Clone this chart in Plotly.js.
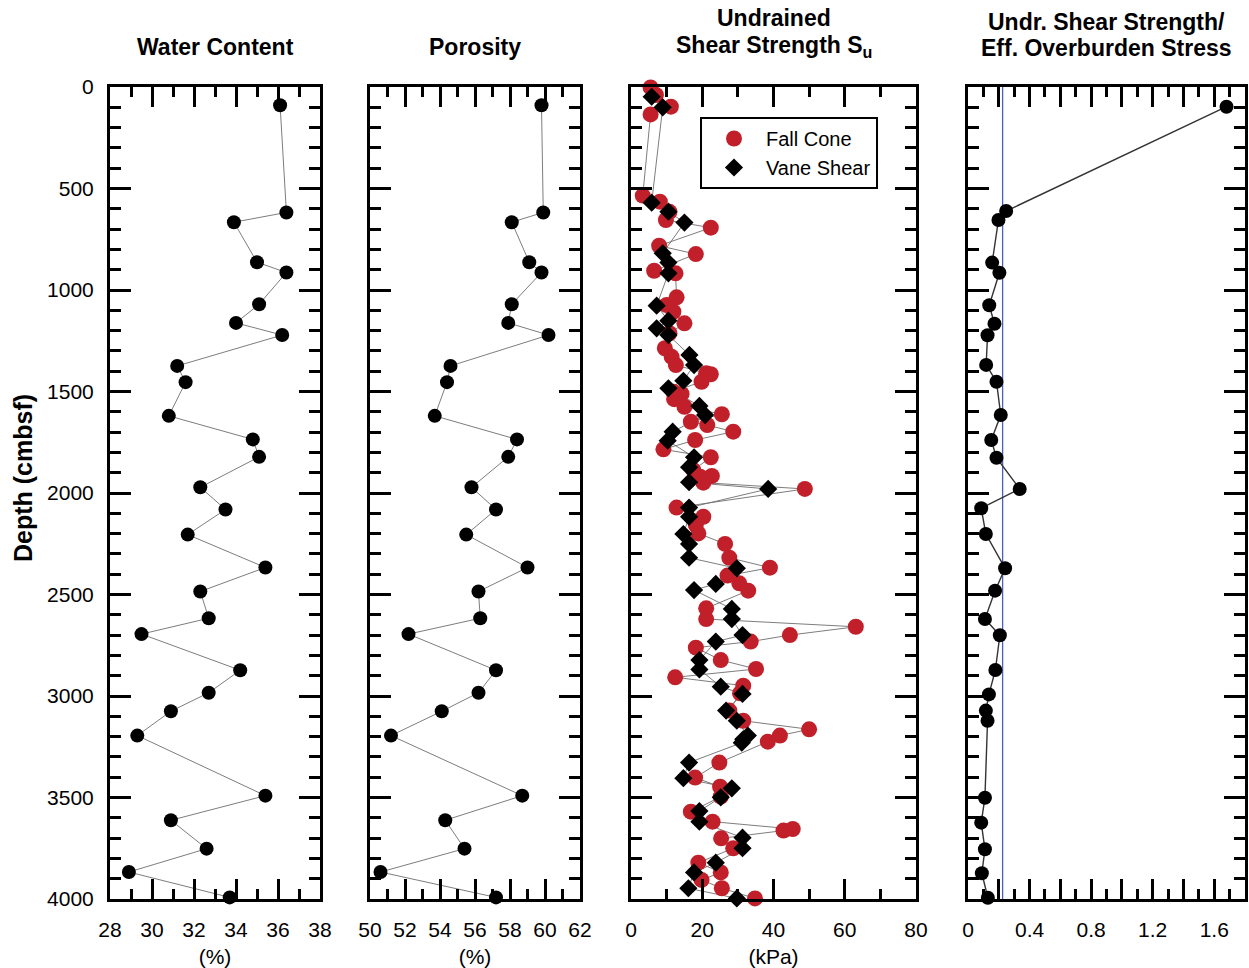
<!DOCTYPE html>
<html>
<head>
<meta charset="utf-8">
<script src="https://cdn.plot.ly/plotly-3.0.1.min.js"></script>
<style>html,body{margin:0;padding:0;background:#fff;}</style>
</head>
<body>
<div id="chart" style="width:1249px;height:968px;"></div>
<script>
// ---- Data ----
const propDepth = [90, 618, 666, 863, 914, 1070, 1162, 1222, 1374, 1454, 1620, 1736, 1822, 1972, 2081, 2205, 2367, 2485, 2617, 2695, 2873, 2984, 3075, 3195, 3491, 3612, 3752, 3867, 3992];
const waterContent = [36.1, 36.4, 33.9, 35.0, 36.4, 35.1, 34.0, 36.2, 31.2, 31.6, 30.8, 34.8, 35.1, 32.3, 33.5, 31.7, 35.4, 32.3, 32.7, 29.5, 34.2, 32.7, 30.9, 29.3, 35.4, 30.9, 32.6, 28.9, 33.7];
const porosity = [59.8, 59.9, 58.1, 59.1, 59.8, 58.1, 57.9, 60.2, 54.6, 54.4, 53.7, 58.4, 57.9, 55.8, 57.2, 55.5, 59.0, 56.2, 56.3, 52.2, 57.2, 56.2, 54.1, 51.2, 58.7, 54.3, 55.4, 50.6, 57.2];

const fcDepth = [2, 39, 97, 135, 535, 565, 615, 655, 693, 782, 823, 905, 918, 1036, 1074, 1107, 1164, 1213, 1287, 1329, 1370, 1410, 1415, 1452, 1501, 1512, 1538, 1575, 1612, 1649, 1665, 1698, 1739, 1785, 1824, 1887, 1916, 1920, 1949, 1980, 2072, 2117, 2158, 2199, 2251, 2319, 2368, 2407, 2445, 2481, 2568, 2621, 2659, 2700, 2732, 2762, 2823, 2867, 2908, 2949, 2987, 3072, 3122, 3164, 3195, 3225, 3328, 3402, 3447, 3496, 3570, 3619, 3655, 3663, 3701, 3750, 3821, 3869, 3906, 3947, 3997];
const fallCone = [5.5, 7.0, 11.2, 5.5, 3.3, 8.1, 10.8, 9.8, 22.4, 7.9, 18.2, 6.5, 12.5, 12.8, 10.0, 11.9, 15.0, 10.8, 9.5, 11.4, 12.6, 21.1, 22.4, 19.8, 11.9, 14.2, 12.1, 15.0, 25.5, 16.8, 21.4, 28.7, 18.0, 9.1, 22.4, 17.5, 22.7, 19.4, 20.3, 48.8, 12.8, 20.3, 18.2, 18.9, 26.4, 27.6, 39.0, 27.1, 30.4, 32.9, 21.1, 21.1, 63.1, 44.6, 33.6, 18.2, 25.2, 35.1, 12.4, 31.5, 30.6, 27.6, 31.5, 50.0, 41.8, 38.4, 24.8, 18.0, 25.0, 25.2, 16.8, 22.9, 45.4, 42.8, 25.3, 28.7, 18.9, 25.2, 19.8, 25.5, 34.8];

const vsDepth = [48, 100, 570, 614, 668, 819, 865, 918, 1077, 1151, 1189, 1222, 1320, 1370, 1447, 1484, 1571, 1616, 1698, 1742, 1824, 1873, 1947, 1980, 2072, 2117, 2202, 2251, 2319, 2371, 2448, 2478, 2571, 2621, 2700, 2732, 2823, 2869, 2954, 2990, 3072, 3122, 3195, 3213, 3230, 3328, 3405, 3455, 3499, 3567, 3619, 3698, 3750, 3821, 3869, 3947, 3997];
const vaneShear = [5.8, 8.9, 5.8, 10.5, 15.0, 8.9, 10.5, 10.5, 7.2, 10.5, 7.2, 10.5, 16.4, 17.7, 14.7, 10.5, 19.2, 20.8, 11.7, 10.3, 17.7, 16.3, 16.3, 38.5, 16.3, 16.3, 14.7, 16.3, 16.3, 29.7, 23.8, 17.7, 28.3, 28.3, 31.3, 23.8, 19.2, 19.2, 25.2, 31.3, 26.7, 29.7, 32.8, 31.5, 31.1, 16.3, 14.7, 28.3, 25.2, 19.2, 19.2, 31.3, 31.3, 23.8, 17.7, 16.1, 29.7];

const ratioDepth = [97, 611, 655, 865, 915, 1075, 1166, 1223, 1369, 1452, 1616, 1739, 1826, 1980, 2075, 2202, 2371, 2481, 2621, 2701, 2872, 2992, 3072, 3122, 3501, 3624, 3755, 3873, 3994];
const ratio = [1.68, 0.248, 0.198, 0.157, 0.204, 0.138, 0.172, 0.127, 0.118, 0.185, 0.213, 0.151, 0.185, 0.336, 0.086, 0.116, 0.241, 0.176, 0.11, 0.207, 0.178, 0.136, 0.116, 0.127, 0.11, 0.086, 0.11, 0.09, 0.129];
const ratioRef = 0.225;

const ratioMajorTicks = [0, 0.2, 0.4, 0.6, 0.8, 1.0, 1.2, 1.4, 1.6, 1.8];
const ratioLabelVals = [0, 0.4, 0.8, 1.2, 1.6];
const ratioLabelText = ['0', '0.4', '0.8', '1.2', '1.6'];

// panel titles: [panel index, text, line-center pixel y]
const titleLines = [
  [0, 'Water Content', 47],
  [1, 'Porosity', 47],
  [2, 'Undrained', 18],
  [2, 'Shear Strength S<sub>u</sub>', 46],
  [3, 'Undr. Shear Strength/', 22],
  [3, 'Eff. Overburden Stress', 48]
];

// ---- Style ----
const FONT = 'Arial, "Liberation Sans", sans-serif';
const RED = '#c1202a';
const thinLine = {color: '#6e6e6e', width: 0.9};

const traces = [
  {x: waterContent, y: propDepth, xaxis: 'x', yaxis: 'y', mode: 'lines+markers', showlegend: false, cliponaxis: false,
   line: thinLine, marker: {color: 'black', size: 14}},
  {x: porosity, y: propDepth, xaxis: 'x2', yaxis: 'y2', mode: 'lines+markers', showlegend: false, cliponaxis: false,
   line: thinLine, marker: {color: 'black', size: 14}},
  {x: fallCone, y: fcDepth, xaxis: 'x3', yaxis: 'y3', mode: 'lines', showlegend: false, line: thinLine},
  {x: vaneShear, y: vsDepth, xaxis: 'x3', yaxis: 'y3', mode: 'lines', showlegend: false, line: thinLine},
  {x: fallCone, y: fcDepth, xaxis: 'x3', yaxis: 'y3', mode: 'markers', name: 'Fall Cone', cliponaxis: false,
   marker: {color: RED, size: 16}},
  {x: vaneShear, y: vsDepth, xaxis: 'x3', yaxis: 'y3', mode: 'markers', name: 'Vane Shear', cliponaxis: false,
   marker: {color: 'black', size: 14, symbol: 'diamond'}},
  {x: [ratioRef, ratioRef], y: [0, 4000], xaxis: 'x4', yaxis: 'y4', mode: 'lines', showlegend: false,
   line: {color: '#4a5fc1', width: 1.3}, hoverinfo: 'skip'},
  {x: ratio, y: ratioDepth, xaxis: 'x4', yaxis: 'y4', mode: 'lines+markers', showlegend: false, cliponaxis: false,
   line: {color: '#333', width: 1.4}, marker: {color: 'black', size: 14}},
  {x: [0.5], y: [2000], xaxis: 'x5', yaxis: 'y4', mode: 'markers', showlegend: false,
   marker: {opacity: 0}, hoverinfo: 'skip'}
];

const tickFont = {family: FONT, size: 21, color: 'black'};

function xAxis(domain, range, dtick, minorDtick, title, extra) {
  const ax = Object.assign({
    domain: domain, range: range, autorange: false, dtick: dtick, tick0: 0,
    showline: true, linecolor: 'black', linewidth: 3, mirror: 'ticks',
    ticks: 'inside', ticklen: 20, tickwidth: 3, tickcolor: 'black',
    minor: {dtick: minorDtick, ticks: 'inside', ticklen: 10, tickwidth: 3, tickcolor: 'black', showgrid: false},
    showgrid: false, zeroline: false,
    tickfont: tickFont,
    ticklabelstandoff: 10
  }, extra || {});
  if (title) ax.title = {text: title, font: {family: FONT, size: 21, color: 'black'}, standoff: 11};
  return ax;
}
function yAxis(anchor, showLabels) {
  return {
    anchor: anchor, range: [4000, 0], autorange: false, dtick: 500, tick0: 0,
    showline: true, linecolor: 'black', linewidth: 3, mirror: 'ticks',
    ticks: 'inside', ticklen: 21, tickwidth: 3, tickcolor: 'black',
    minor: {dtick: 100, ticks: 'inside', ticklen: 11, tickwidth: 3, tickcolor: 'black', showgrid: false},
    showgrid: false, zeroline: false, showticklabels: showLabels,
    tickfont: tickFont,
    ticklabelstandoff: 9
  };
}

const W = 1135, PT = 87, PH = 812;
const dom = [[0, 210 / W], [260 / W, 470 / W], [521 / W, 806 / W], [858 / W, 1]];
const pyToPaper = py => 1 - (py - PT) / PH;
const pxToPaper = px => (px - 110) / W;

const annotations = titleLines.map(([i, t, py]) => ({
  text: '<b>' + t + '</b>', xref: 'paper', yref: 'paper',
  x: (dom[i][0] + dom[i][1]) / 2, y: pyToPaper(py), xanchor: 'center', yanchor: 'middle',
  showarrow: false, font: {family: FONT, size: 23, color: 'black'}
}));
annotations.push({
  text: '<b>Depth (cmbsf)</b>', xref: 'paper', yref: 'paper', textangle: -90,
  x: pxToPaper(23), y: pyToPaper(478), xanchor: 'center', yanchor: 'middle',
  showarrow: false, font: {family: FONT, size: 25, color: 'black'}
});

const layout = {
  width: 1249, height: 968,
  margin: {l: 110, r: 4, t: 87, b: 69},
  paper_bgcolor: 'white', plot_bgcolor: 'white',
  font: {family: FONT, color: 'black'},
  xaxis: xAxis(dom[0], [28, 38], 2, 1, '(%)', {anchor: 'y'}),
  xaxis2: xAxis(dom[1], [50, 62], 2, 1, '(%)', {anchor: 'y2'}),
  xaxis3: xAxis(dom[2], [0, 80], 20, 10, '(kPa)', {anchor: 'y3'}),
  xaxis4: xAxis(dom[3], [0, 1.8], 0.2, 0.1, null, {anchor: 'y4', tickmode: 'array', tickvals: ratioMajorTicks, showticklabels: false}),
  xaxis5: {overlaying: 'x4', anchor: 'y4', range: [0, 1.8], autorange: false, tickmode: 'array',
           tickvals: ratioLabelVals, ticktext: ratioLabelText, ticks: '', showline: false, showgrid: false,
           zeroline: false, tickfont: tickFont, ticklabelstandoff: 16},
  yaxis: yAxis('x', true),
  yaxis2: yAxis('x2', false),
  yaxis3: yAxis('x3', false),
  yaxis4: yAxis('x4', false),
  showlegend: true,
  legend: {
    x: 590 / W, y: pyToPaper(117), xanchor: 'left', yanchor: 'top',
    bordercolor: 'black', borderwidth: 2, bgcolor: 'white',
    font: {family: FONT, size: 20, color: 'black'},
    itemwidth: 54, tracegroupgap: 4
  },
  annotations: annotations
};

Plotly.newPlot('chart', traces, layout, {displayModeBar: false, staticPlot: true});
</script>
</body>
</html>
